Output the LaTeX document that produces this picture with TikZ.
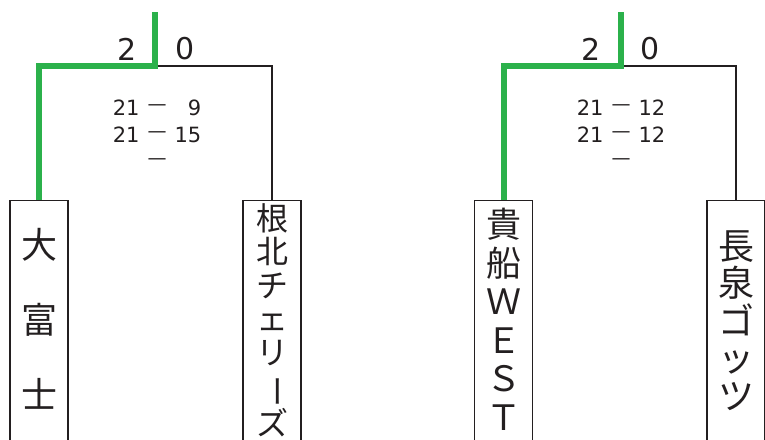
\documentclass[tikz,border=0pt]{standalone}
\usepackage{fontspec}
\newfontfamily\jpfont{Noto Sans CJK JP}
\newfontfamily\numfont{DejaVu Sans}
\usetikzlibrary{positioning, calc}
\definecolor{wingreen}{RGB}{43,177,75}
\definecolor{linedark}{RGB}{35,31,32}
\newcommand{\scoredash}{\raisebox{5pt}{\fontsize{19}{27}\selectfont —}}
\newcommand{\vbar}{\rotatebox[origin=c]{-90}{ー}}

\begin{document}
\begin{tikzpicture}[
    x=1pt, y=-1pt,
    teambox/.style={draw=linedark, line width=1.2pt, rectangle, minimum width=58pt, minimum height=260pt, anchor=north, inner sep=0pt},
    teamname/.style n args={2}{font=\jpfont\fontsize{#1}{#2}\selectfont, align=center, inner sep=0pt, text=linedark},
    winline/.style={draw=wingreen, line width=6pt},
    loseline/.style={draw=linedark, line width=2.8pt},
    gamescore/.style={font=\numfont\fontsize{30}{36}\selectfont, text=linedark, inner sep=0pt},
    setscore/.style={font=\numfont\fontsize{21}{27}\selectfont, text=linedark, inner sep=0pt, anchor=north}
]
\useasboundingbox (0,0) rectangle (765,439);
\clip (0,0) rectangle (765,439);

% teams
\node[teambox] (ofuji) at (39,200) {};
\node[teamname={36}{75}, below=28pt of ofuji.north] (ofujiname) {大\\富\\士};
\node[teambox] (nekita) at (272,200) {};
\node[teamname={32}{33.6}, below=3pt of nekita.north] (nekitaname) {根\\北\\チ\\ェ\\リ\\\vbar\\ズ};
\node[teambox] (kibune) at (503.5,200) {};
\node[teamname={35}{38.5}, below=8pt of kibune.north] (kibunename) {貴\\船\\Ｗ\\Ｅ\\Ｓ\\Ｔ};
\node[teambox] (nagaizumi) at (736,200) {};
\node[teamname={36}{37.5}, below=30pt of nagaizumi.north] (nagaizuminame) {長\\泉\\ゴ\\ッ\\ツ};

% match 1
\coordinate (top1) at (155,12);
\coordinate (join1) at (155,66);
\draw[loseline] (join1) -| (nekita.north);
\draw[winline] (top1) -- (join1) -| (ofuji.north);
\node[gamescore] (win1) at (127.5,49) {2};
\node[gamescore] (lose1) at (185.5,49) {0};
\node[setscore] (sets1) at (157,96) {\begin{tabular}{@{}r@{\hskip8pt}c@{\hskip8pt}r@{}}21 & \scoredash & 9\\21 & \scoredash & 15\\ & \scoredash & \end{tabular}};

% match 2
\coordinate (top2) at (621,12);
\coordinate (join2) at (621,66);
\draw[loseline] (join2) -| (nagaizumi.north);
\draw[winline] (top2) -- (join2) -| (kibune.north);
\node[gamescore] (win2) at (591.5,49) {2};
\node[gamescore] (lose2) at (650,49) {0};
\node[setscore] (sets2) at (621,96) {\begin{tabular}{@{}r@{\hskip8pt}c@{\hskip8pt}r@{}}21 & \scoredash & 12\\21 & \scoredash & 12\\ & \scoredash & \end{tabular}};
\end{tikzpicture}
\end{document}
